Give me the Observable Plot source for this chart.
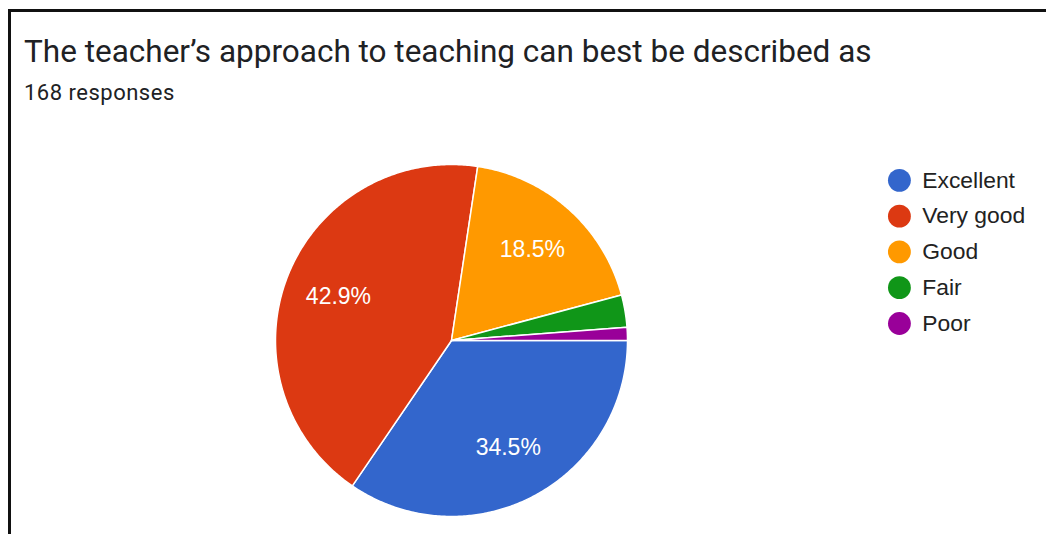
<!DOCTYPE html>
<html>
<head>
<meta charset="utf-8">
<script src="https://cdn.jsdelivr.net/npm/d3@7"></script>
<script src="https://cdn.jsdelivr.net/npm/@observablehq/plot@0.6"></script>
<style>
  html, body { margin: 0; padding: 0; background: #fff; }
  body { width: 1046px; height: 534px; overflow: hidden; position: relative; }
  #frame { position: absolute; left: 8px; top: 9px; width: 1100px; height: 600px;
           border-left: 3px solid #111; border-top: 3px solid #111; }
  #title { position: absolute; left: 24px; top: 36px; font-family: Roboto, sans-serif;
           font-size: 31.5px; line-height: 1; color: #202124; white-space: nowrap; }
  #subtitle { position: absolute; left: 24px; top: 82px; font-family: Roboto, sans-serif;
              font-size: 22px; letter-spacing: 0.5px; line-height: 1; color: #202124; white-space: nowrap; }
  #pie { position: absolute; left: 251px; top: 140px; }
  #legend { position: absolute; left: 887px; top: 158px; }
</style>
</head>
<body>
<div id="frame"></div>
<div id="title">The teacher’s approach to teaching can best be described as</div>
<div id="subtitle">168 responses</div>
<div id="pie"></div>
<div id="legend"></div>
<script>
const categories = ["Excellent", "Very good", "Good", "Fair", "Poor"];
const counts = [58, 72, 31, 5, 2];
const colors = ["#3366cc", "#dc3912", "#ff9900", "#109618", "#990099"];

const total = d3.sum(counts);
const data = categories.map((c, i) => ({category: c, count: counts[i]}));
const arcs = d3.pie().value(d => d.count).sort(null)
  .startAngle(Math.PI / 2).endAngle(Math.PI / 2 + 2 * Math.PI)(data);

// slice outlines in unit-radius polar coordinates
const slicePts = [];
for (const a of arcs) {
  const cat = a.data.category;
  slicePts.push({category: cat, x: 0, y: 0});
  const n = Math.max(2, Math.ceil((a.endAngle - a.startAngle) / 0.01));
  for (let k = 0; k <= n; k++) {
    const t = a.startAngle + (a.endAngle - a.startAngle) * k / n;
    slicePts.push({category: cat, x: Math.sin(t), y: Math.cos(t)});
  }
}
const labelR = 0.69;
const labels = arcs.filter(a => a.data.count / total >= 0.05).map(a => {
  const m = (a.startAngle + a.endAngle) / 2;
  return {x: labelR * Math.sin(m), y: labelR * Math.cos(m),
          text: (a.data.count / total * 100).toFixed(1) + "%"};
});

const R = 176, W = 400;
const half = (W / 2) / R;
const color = {type: "ordinal", domain: categories, range: colors};

const pie = Plot.plot({
  width: W, height: W, margin: 0,
  x: {domain: [-half, half], axis: null},
  y: {domain: [-half, half], axis: null},
  color,
  marks: [
    Plot.line(slicePts, {x: "x", y: "y", z: "category", fill: "category",
      stroke: "#fff", strokeWidth: 1.5, curve: "linear-closed"}),
    Plot.text(labels, {x: "x", y: "y", text: "text", fill: "#fff",
      fontSize: 23, fontFamily: "Arial, 'Liberation Sans', sans-serif"})
  ]
});
document.getElementById("pie").appendChild(pie);

const legend = Plot.plot({
  width: 160, height: 187, marginTop: 20, marginBottom: 20, marginLeft: 12, marginRight: 0,
  x: {domain: [0, 1], axis: null},
  y: {type: "point", domain: categories, padding: 0, axis: null},
  color,
  marks: [
    Plot.dot(categories, {x: () => 0, y: d => d, fill: d => d, r: 11.5}),
    Plot.text(categories, {x: () => 0, y: d => d, text: d => d, dx: 23, textAnchor: "start",
      fill: "#222", fontSize: 23, fontFamily: "Arial, 'Liberation Sans', sans-serif"})
  ]
});
document.getElementById("legend").appendChild(legend);
</script>
</body>
</html>
